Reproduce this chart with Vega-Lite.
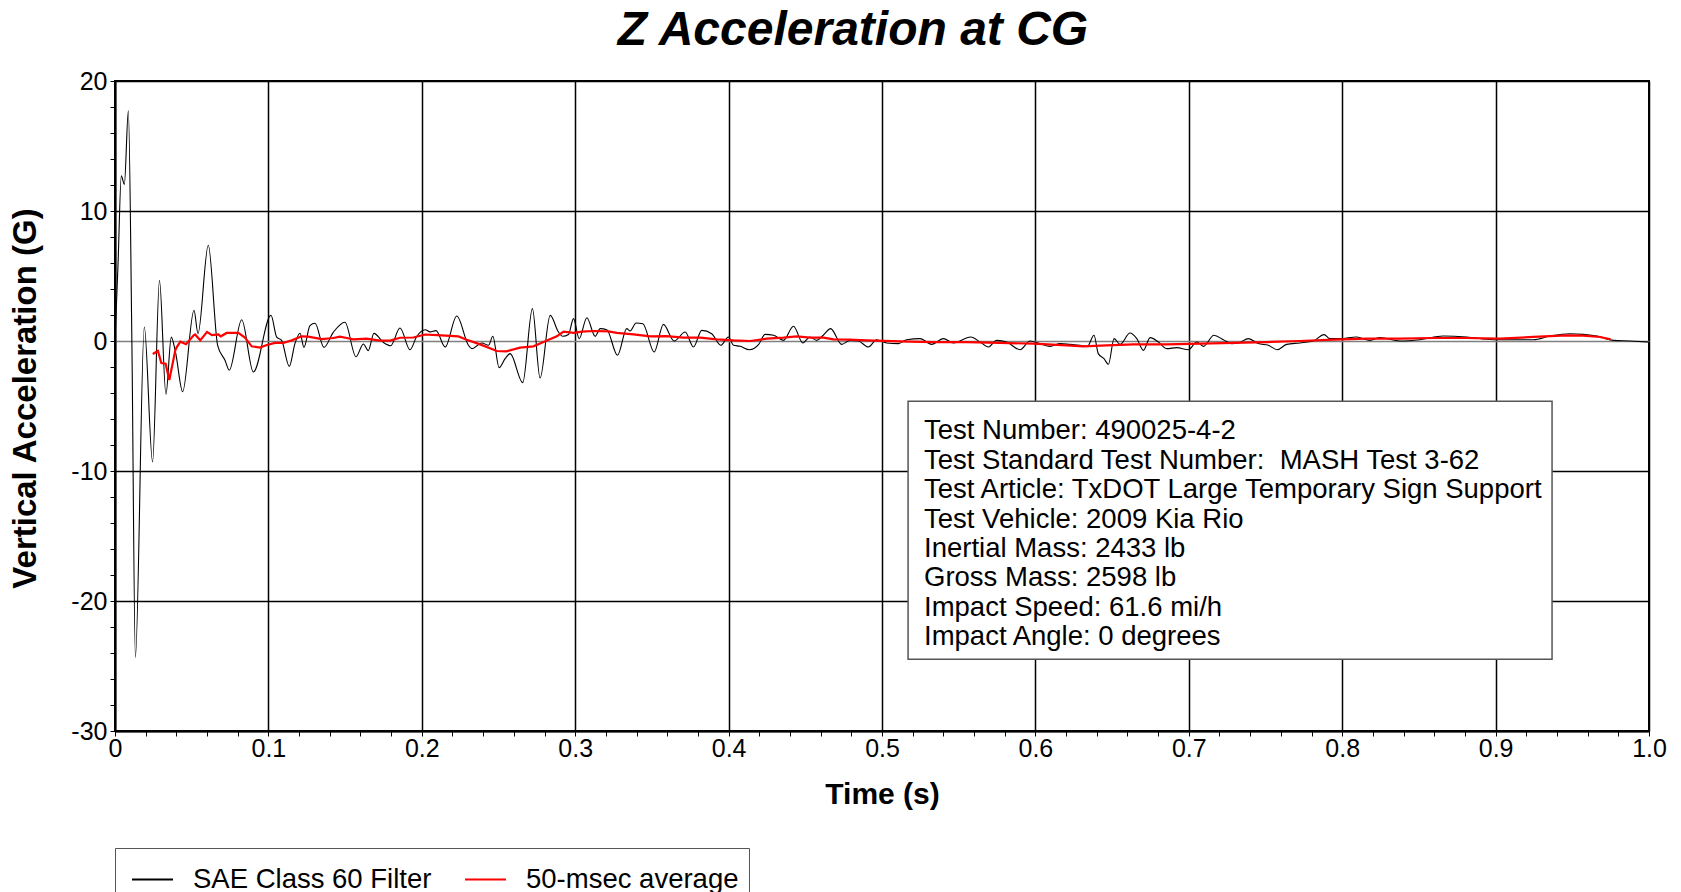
{
  "$schema": "https://vega.github.io/schema/vega-lite/v6.json",
  "autosize": "none",
  "width": 1534,
  "height": 650,
  "padding": {"left": 115, "top": 81, "right": 32, "bottom": 161},
  "background": "white",
  "config": {"view": {"stroke": "black", "strokeWidth": 2}, "font": "Liberation Sans"},
  "title": {"text": "Z Acceleration at CG", "font": "Liberation Sans", "fontSize": 48, "fontWeight": "bold", "fontStyle": "italic", "color": "black", "anchor": "middle", "frame": "group", "baseline": "alphabetic", "offset": -24, "dx": -29},
  "datasets": {
    "filt": [
      {"t": 0, "g": 0}, {"t": 0.002, "g": 6}, {"t": 0.0041, "g": 12.7}, {"t": 0.0061, "g": 12.05}, {"t": 0.0087, "g": 17.7}, {"t": 0.011, "g": 0}, {"t": 0.0133, "g": -24.35}, {"t": 0.0191, "g": 1.08}, {"t": 0.0245, "g": -9.3}, {"t": 0.029, "g": 4.67}, {"t": 0.0332, "g": -4.1}, {"t": 0.0367, "g": 0.3}, {"t": 0.0395, "g": -0.9}, {"t": 0.0441, "g": -3.9}, {"t": 0.0515, "g": 2.36}, {"t": 0.0541, "g": 0.57}, {"t": 0.0608, "g": 7.36}, {"t": 0.0669, "g": -0.33}, {"t": 0.0717, "g": -1.48}, {"t": 0.0745, "g": -2.25}, {"t": 0.0826, "g": 1.64}, {"t": 0.0902, "g": -2.38}, {"t": 0.1017, "g": 1.98}, {"t": 0.1054, "g": 0.3}, {"t": 0.1086, "g": 0.05}, {"t": 0.1136, "g": -1.95}, {"t": 0.1173, "g": -0.2}, {"t": 0.1206, "g": 0.6}, {"t": 0.1232, "g": -0.49}, {"t": 0.1271, "g": 1.18}, {"t": 0.1304, "g": 1.36}, {"t": 0.1362, "g": -0.49}, {"t": 0.1423, "g": 0.67}, {"t": 0.1499, "g": 1.44}, {"t": 0.1571, "g": -1.21}, {"t": 0.1619, "g": -0.23}, {"t": 0.1651, "g": -0.74}, {"t": 0.1688, "g": 0.59}, {"t": 0.1749, "g": -0.1}, {"t": 0.1797, "g": -0.36}, {"t": 0.1858, "g": 1.0}, {"t": 0.1923, "g": -0.67}, {"t": 0.1967, "g": 0.35}, {"t": 0.2022, "g": 0.87}, {"t": 0.2054, "g": 0.7}, {"t": 0.2093, "g": 0.8}, {"t": 0.2152, "g": -0.46}, {"t": 0.2228, "g": 1.92}, {"t": 0.2304, "g": -0.33}, {"t": 0.2326, "g": -0.59}, {"t": 0.2391, "g": -0.15}, {"t": 0.2435, "g": -0.33}, {"t": 0.2463, "g": 0.36}, {"t": 0.2504, "g": -2.05}, {"t": 0.2543, "g": -1.36}, {"t": 0.2576, "g": -0.97}, {"t": 0.2658, "g": -3.2}, {"t": 0.2721, "g": 2.49}, {"t": 0.2771, "g": -2.85}, {"t": 0.2837, "g": 1.97}, {"t": 0.2891, "g": 0.69}, {"t": 0.2919, "g": 0.36}, {"t": 0.2956, "g": 0.5}, {"t": 0.2989, "g": 1.72}, {"t": 0.3026, "g": 0.18}, {"t": 0.3076, "g": 1.79}, {"t": 0.313, "g": 0.36}, {"t": 0.3163, "g": 0.95}, {"t": 0.3206, "g": 0.87}, {"t": 0.3276, "g": -1.1}, {"t": 0.3336, "g": 0.95}, {"t": 0.3358, "g": 0.77}, {"t": 0.3397, "g": 1.38}, {"t": 0.3441, "g": 1.33}, {"t": 0.3515, "g": -0.85}, {"t": 0.3575, "g": 1.28}, {"t": 0.3645, "g": 0}, {"t": 0.3717, "g": 0.69}, {"t": 0.3771, "g": -0.46}, {"t": 0.3825, "g": 0.82}, {"t": 0.389, "g": 0.56}, {"t": 0.3949, "g": -0.33}, {"t": 0.3999, "g": 0.31}, {"t": 0.4032, "g": -0.33}, {"t": 0.4075, "g": -0.41}, {"t": 0.4136, "g": -0.67}, {"t": 0.4195, "g": -0.28}, {"t": 0.4238, "g": 0.51}, {"t": 0.4293, "g": 0.44}, {"t": 0.4358, "g": 0.05}, {"t": 0.4423, "g": 1.13}, {"t": 0.4484, "g": -0.15}, {"t": 0.453, "g": 0.31}, {"t": 0.4574, "g": 0.05}, {"t": 0.4617, "g": 0.44}, {"t": 0.4665, "g": 0.95}, {"t": 0.4737, "g": -0.26}, {"t": 0.4791, "g": 0.05}, {"t": 0.4846, "g": 0}, {"t": 0.4911, "g": -0.46}, {"t": 0.4965, "g": 0.1}, {"t": 0.503, "g": -0.15}, {"t": 0.5107, "g": -0.2}, {"t": 0.5161, "g": 0.1}, {"t": 0.5248, "g": 0.18}, {"t": 0.5324, "g": -0.26}, {"t": 0.54, "g": 0.18}, {"t": 0.5465, "g": -0.15}, {"t": 0.5578, "g": 0.31}, {"t": 0.564, "g": -0.08}, {"t": 0.5694, "g": -0.46}, {"t": 0.5747, "g": 0.05}, {"t": 0.5813, "g": -0.08}, {"t": 0.59, "g": -0.67}, {"t": 0.5965, "g": 0}, {"t": 0.603, "g": -0.2}, {"t": 0.6095, "g": -0.41}, {"t": 0.6161, "g": -0.2}, {"t": 0.6226, "g": -0.26}, {"t": 0.6291, "g": -0.33}, {"t": 0.6339, "g": -0.41}, {"t": 0.6382, "g": 0.44}, {"t": 0.641, "g": -0.97}, {"t": 0.6447, "g": -1.36}, {"t": 0.6476, "g": -1.79}, {"t": 0.6513, "g": 0.18}, {"t": 0.6552, "g": -0.26}, {"t": 0.6617, "g": 0.62}, {"t": 0.6661, "g": 0.18}, {"t": 0.6704, "g": -0.72}, {"t": 0.6748, "g": 0.26}, {"t": 0.6802, "g": -0.08}, {"t": 0.6856, "g": -0.59}, {"t": 0.6922, "g": -0.51}, {"t": 0.6998, "g": -0.67}, {"t": 0.7052, "g": -0.08}, {"t": 0.7096, "g": -0.41}, {"t": 0.7164, "g": 0.44}, {"t": 0.7225, "g": 0.1}, {"t": 0.728, "g": -0.2}, {"t": 0.7323, "g": -0.15}, {"t": 0.7389, "g": 0.18}, {"t": 0.7453, "g": -0.2}, {"t": 0.7519, "g": -0.33}, {"t": 0.7577, "g": -0.67}, {"t": 0.7638, "g": -0.26}, {"t": 0.7725, "g": -0.15}, {"t": 0.7812, "g": 0}, {"t": 0.7882, "g": 0.49}, {"t": 0.792, "g": 0.18}, {"t": 0.7986, "g": 0.18}, {"t": 0.8094, "g": 0.31}, {"t": 0.8181, "g": 0.05}, {"t": 0.8246, "g": 0.26}, {"t": 0.8377, "g": 0}, {"t": 0.8507, "g": 0.1}, {"t": 0.8659, "g": 0.38}, {"t": 0.8812, "g": 0.31}, {"t": 0.8986, "g": 0.1}, {"t": 0.9116, "g": 0.1}, {"t": 0.9246, "g": 0.1}, {"t": 0.9355, "g": 0.38}, {"t": 0.9485, "g": 0.56}, {"t": 0.9572, "g": 0.51}, {"t": 0.967, "g": 0.36}, {"t": 0.9768, "g": 0.05}, {"t": 0.9877, "g": 0}, {"t": 1.0, "g": -0.08}
    ],
    "avg": [
      {"t": 0.0246, "g": -1.0}, {"t": 0.028, "g": -0.77}, {"t": 0.0302, "g": -1.69}, {"t": 0.033, "g": -1.75}, {"t": 0.0354, "g": -3.0}, {"t": 0.0393, "g": -0.72}, {"t": 0.0402, "g": -0.49}, {"t": 0.0426, "g": -0.05}, {"t": 0.0463, "g": -0.25}, {"t": 0.0513, "g": 0.44}, {"t": 0.0522, "g": 0.5}, {"t": 0.0556, "g": 0.05}, {"t": 0.06, "g": 0.7}, {"t": 0.0632, "g": 0.45}, {"t": 0.0674, "g": 0.5}, {"t": 0.069, "g": 0.36}, {"t": 0.0728, "g": 0.62}, {"t": 0.0804, "g": 0.62}, {"t": 0.0847, "g": 0.26}, {"t": 0.0891, "g": -0.41}, {"t": 0.0945, "g": -0.51}, {"t": 0.0985, "g": -0.33}, {"t": 0.1043, "g": -0.15}, {"t": 0.1097, "g": -0.15}, {"t": 0.1152, "g": 0.05}, {"t": 0.1217, "g": 0.36}, {"t": 0.126, "g": 0.33}, {"t": 0.1347, "g": 0.15}, {"t": 0.1423, "g": 0.23}, {"t": 0.1467, "g": 0.33}, {"t": 0.151, "g": 0.23}, {"t": 0.1554, "g": 0.13}, {"t": 0.164, "g": 0.18}, {"t": 0.1727, "g": 0.03}, {"t": 0.1793, "g": 0.03}, {"t": 0.1858, "g": 0.25}, {"t": 0.1945, "g": 0.27}, {"t": 0.2022, "g": 0.5}, {"t": 0.2098, "g": 0.45}, {"t": 0.2239, "g": 0.35}, {"t": 0.2293, "g": 0.1}, {"t": 0.238, "g": -0.26}, {"t": 0.2489, "g": -0.77}, {"t": 0.255, "g": -0.8}, {"t": 0.2641, "g": -0.51}, {"t": 0.2728, "g": -0.41}, {"t": 0.2793, "g": -0.08}, {"t": 0.288, "g": 0.36}, {"t": 0.2924, "g": 0.72}, {"t": 0.2989, "g": 0.62}, {"t": 0.3043, "g": 0.72}, {"t": 0.3119, "g": 0.77}, {"t": 0.3217, "g": 0.74}, {"t": 0.3271, "g": 0.62}, {"t": 0.338, "g": 0.51}, {"t": 0.3489, "g": 0.36}, {"t": 0.3597, "g": 0.38}, {"t": 0.3706, "g": 0.26}, {"t": 0.3815, "g": 0.26}, {"t": 0.3923, "g": 0.13}, {"t": 0.4032, "g": 0.05}, {"t": 0.414, "g": 0}, {"t": 0.4249, "g": 0.18}, {"t": 0.4358, "g": 0.26}, {"t": 0.4445, "g": 0.36}, {"t": 0.4532, "g": 0.26}, {"t": 0.4619, "g": 0.26}, {"t": 0.4684, "g": 0.12}, {"t": 0.4788, "g": 0.1}, {"t": 0.49, "g": 0.05}, {"t": 0.5117, "g": -0.03}, {"t": 0.5335, "g": -0.08}, {"t": 0.5552, "g": -0.08}, {"t": 0.5769, "g": -0.15}, {"t": 0.5987, "g": -0.2}, {"t": 0.6204, "g": -0.33}, {"t": 0.6313, "g": -0.41}, {"t": 0.6465, "g": -0.33}, {"t": 0.6639, "g": -0.26}, {"t": 0.6856, "g": -0.26}, {"t": 0.7074, "g": -0.2}, {"t": 0.729, "g": -0.15}, {"t": 0.7508, "g": -0.08}, {"t": 0.7725, "g": 0}, {"t": 0.7942, "g": 0.1}, {"t": 0.816, "g": 0.18}, {"t": 0.8377, "g": 0.18}, {"t": 0.8594, "g": 0.23}, {"t": 0.8812, "g": 0.23}, {"t": 0.9029, "g": 0.18}, {"t": 0.9246, "g": 0.31}, {"t": 0.9464, "g": 0.44}, {"t": 0.9572, "g": 0.41}, {"t": 0.9681, "g": 0.31}, {"t": 0.975, "g": 0.12}
    ]
  },
  "layer": [
    {
      "data": {"name": "filt"},
      "mark": {"type": "line", "interpolate": "monotone", "strokeWidth": 1.1},
      "encoding": {
        "x": {
          "field": "t", "type": "quantitative",
          "scale": {"domain": [0, 1], "nice": false, "zero": false},
          "axis": {
            "title": "Time (s)",
            "tickCount": 100,
            "values": [0, 0.02, 0.04, 0.06, 0.08, 0.1, 0.12, 0.14, 0.16, 0.18, 0.2, 0.22, 0.24, 0.26, 0.28, 0.3, 0.32, 0.34, 0.36, 0.38, 0.4, 0.42, 0.44, 0.46, 0.48, 0.5, 0.52, 0.54, 0.56, 0.58, 0.6, 0.62, 0.64, 0.66, 0.68, 0.7, 0.72, 0.74, 0.76, 0.78, 0.8, 0.82, 0.84, 0.86, 0.88, 0.9, 0.92, 0.94, 0.96, 0.98, 1],
            "labelExpr": "abs(datum.value*10 - round(datum.value*10)) < 0.001 ? (datum.value == 0 ? '0' : format(datum.value, '.1f')) : ''",
            "labelFont": "Liberation Sans", "labelFontSize": 25, "labelColor": "black", "labelPadding": 0, "labelFlush": false, "labelOverlap": false,
            "tickSize": 5, "tickColor": "black", "tickWidth": 1,
            "domainColor": "black", "domainWidth": 2,
            "grid": true, "gridWidth": 1.5,
            "gridColor": {"condition": {"test": "abs(datum.value*10 - round(datum.value*10)) < 0.001", "value": "black"}, "value": "transparent"},
            "titleFont": "Liberation Sans", "titleFontSize": 30, "titleFontWeight": "bold", "titleColor": "black", "titlePadding": 18
          }
        },
        "y": {
          "field": "g", "type": "quantitative",
          "scale": {"domain": [-30, 20], "nice": false, "zero": false},
          "axis": {
            "title": "Vertical Acceleration (G)",
            "tickCount": 100,
            "values": [-30, -28, -26, -24, -22, -20, -18, -16, -14, -12, -10, -8, -6, -4, -2, 0, 2, 4, 6, 8, 10, 12, 14, 16, 18, 20],
            "labelExpr": "datum.value % 10 == 0 ? ('' + datum.value) : ''",
            "labelFont": "Liberation Sans", "labelFontSize": 25, "labelColor": "black", "labelPadding": 3, "labelFlush": false, "labelOverlap": false,
            "tickSize": 5, "tickColor": "black", "tickWidth": 1,
            "domainColor": "black", "domainWidth": 2,
            "grid": true, "gridWidth": 1.5,
            "gridColor": {"condition": [{"test": "datum.value % 10 != 0", "value": "transparent"}, {"test": "datum.value == 0", "value": "#808080"}], "value": "black"},
            "titleFont": "Liberation Sans", "titleFontSize": 33, "titleFontWeight": "bold", "titleColor": "black", "titlePadding": 28, "titleY": 317
          }
        },
        "color": {
          "datum": "SAE Class 60 Filter",
          "scale": {"domain": ["SAE Class 60 Filter", "50-msec average"], "range": ["black", "#ff0000"]},
          "legend": {
            "title": null, "orient": "none", "legendX": 0, "legendY": 767, "direction": "horizontal",
            "strokeColor": "#555555", "fillColor": "white", "padding": 10, "symbolOffset": 6,
            "labelFont": "Liberation Sans", "labelFontSize": 27.5, "labelColor": "black", "labelOffset": 19, "columnPadding": 26, "labelLimit": 0,
            "symbolType": "stroke", "symbolSize": 1681, "symbolStrokeWidth": 2
          }
        }
      }
    },
    {
      "data": {"name": "avg"},
      "mark": {"type": "line", "strokeWidth": 2.2},
      "encoding": {
        "x": {"field": "t", "type": "quantitative"},
        "y": {"field": "g", "type": "quantitative"},
        "color": {"datum": "50-msec average"}
      }
    },
    {
      "data": {"values": [{}]},
      "mark": {"type": "rect", "fill": "white", "stroke": "#555555", "strokeWidth": 1.5},
      "encoding": {
        "x": {"datum": 0.517, "type": "quantitative"},
        "x2": {"datum": 0.9368},
        "y": {"datum": -4.64, "type": "quantitative"},
        "y2": {"datum": -24.48}
      }
    },
    {
      "data": {"values": [{"lines": ["Test Number: 490025-4-2", "Test Standard Test Number: \u00a0MASH Test 3-62", "Test Article: TxDOT Large Temporary Sign Support", "Test Vehicle: 2009 Kia Rio", "Inertial Mass: 2433 lb", "Gross Mass: 2598 lb", "Impact Speed: 61.6 mi/h", "Impact Angle: 0 degrees"]}]},
      "mark": {"type": "text", "align": "left", "baseline": "middle", "font": "Liberation Sans", "fontSize": 27.5, "lineHeight": 29.4, "color": "black"},
      "encoding": {
        "x": {"datum": 0.5274, "type": "quantitative"},
        "y": {"datum": -6.95, "type": "quantitative"},
        "text": {"field": "lines"}
      }
    }
  ]
}
